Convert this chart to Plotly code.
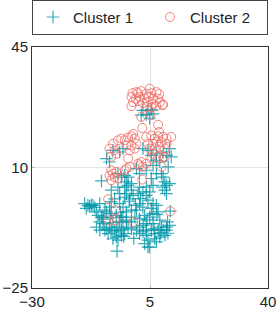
import plotly.graph_objects as go

# Cluster 1 (teal crosses)
c1_x = [2.4, 2.9, 4.4, 5.4, 3.9, 5.9, 4.9,
        -7.9, -6.0, -4.0, -3.0, 2.9, 4.4, 5.4, 6.9, 8.9, 10.8, 9.9, 11.3, 7.9, 10.4, -7.0,
        -9.4, -4.5, -3.5, -2.0, -1.5, -0.5, 1.0, 5.4, 6.9, 8.4, 8.9, 9.4, 9.9, 10.8, 8.7, 9.9, 9.4,
        6.9, 5.9, 3.9, 1.9, -2.5, -1.5,
        -14.4, -13.4, -13.9, -12.9, -9.9, -10.9, -10.4, -9.4, -9.9, -8.9, -10.9, -9.9, -8.4, -7.4,
        -7.9, -7.0, -6.5, -5.5, -5.0, -4.5, -6.0, -3.5, -2.5, -3.0, -4.5, -4.0, -3.0, -2.0, -1.5,
        -0.5, 1.0, 1.9, 2.9, 3.9, 4.4, 4.9, 3.4, 5.4, 6.4, 7.9, 8.9, 9.9, 10.8, 9.4, 7.4, 6.4, 6.9,
        -4.0, -2.5, -1.0, 0.0, 1.5, 2.9, 3.9, 4.9, 4.4, 5.9, 6.9, 5.4, 2.9, 1.9, 1.0, -0.5, -2.0,
        -3.0, -4.0, -5.5, -6.5, -7.0, -7.9, -6.5, -5.0, -3.5, -2.0, 0.5, 1.9, 3.4, 4.9, 5.9, 7.4,
        7.9, 5.9, 3.9, 1.9, -0.5, -4.8, -8.4, -6.5, -4.5, -2.5, -0.5, 1.9, 3.9, 5.9, -2.0,
        11.0, 4.4, 3.9, -5.0, -8.9, -11.9, -3.5, 9.9, 8.4,
        -12.4, -11.4, -8.9, -6.0, -3.8, -1.2, 0.7, 2.2, 3.0, 6.2, 8.2, 10.2, -6.8, -2.8, 0.2, 4.1, 7.0, 10.3]
c1_y = [25.2, 26.6, 26.6, 26.8, 25.4, 25.6, 24.3,
        12.6, 15.0, 14.5, 15.5, 15.5, 15.0, 13.5, 14.0, 14.5, 15.5, 13.5, 13.1, 11.6, 10.2, 11.6,
        6.1, 8.2, 7.2, 5.8, 4.8, 5.3, 9.7, 6.8, 8.2, 8.2, 7.2, 5.8, 4.8, 5.3, 4.3, 2.4, 3.4,
        12.1, 10.6, 9.2, 8.2, 7.7, 7.2,
        -0.5, -1.0, -1.9, -1.3, -0.5, -2.9, -3.9, -4.4, -5.8, -6.3, -7.3, -8.2, -8.2, -9.2,
        -7.8, -7.3, -8.2, -8.7, -10.2, -11.1, -10.7, -9.7, -9.2, -7.8, -7.3, -5.8, -4.4, -5.3, -7.3,
        -7.8, -8.2, -9.2, -8.7, -9.7, -11.1, -13.1, -12.1, -8.2, -9.2, -10.2, -8.2, -7.3, -6.8, -9.7, -8.2, -10.7, -11.6,
        2.4, 1.4, 0.9, 1.9, 2.4, 2.9, 1.9, 2.9, 0.5, -0.5, -1.0, -1.9, -1.5, -0.5, -2.4, -2.4, -2.9,
        -1.5, -0.5, 0.9, 0.0, -1.5, -2.9, -3.4, -3.9, -4.4, -5.8, -4.4, -4.9, -3.9, -4.4, -3.4, -2.9,
        -5.3, -6.3, -6.3, -7.3, -5.8, -14.3, -2.4, 3.4, 4.3, 4.3, 3.4, 4.3, 4.3, 4.8, 2.4,
        -2.7, -13.1, -8.2, -8.2, -4.4, -1.0, -8.2, -8.2, -7.3,
        -0.8, -1.6, -5.0, -6.0, -3.0, 0.2, -1.0, 1.0, -6.8, -7.8, -9.0, -5.8, -4.6, -10.0, -10.6, -5.2, -3.6, -9.1]

# Cluster 2 (red circles)
c2_x = [4.9, -0.2, 1.0, 2.4, 3.9, 5.4, 6.9, 7.7, 1.5, -0.5, 0.8, 1.9, 3.4, 4.6, 5.9, 7.4,
        0.0, 1.5, 2.9, 4.4, 5.9, 7.9, 8.9, -0.5, 3.9, 5.4, 6.9, 8.7, 2.4, 5.1, 2.7, 7.4, 7.7,
        -7.0, -6.0, -4.5, -3.5, -2.5, -1.5, -0.5, 0.5, 0.0, -2.0, -0.5, 1.0, -1.0, 0.5, -6.5,
        -5.0, -5.5, -1.5,
        3.9, 5.4, 6.4, 7.4, 8.9, 9.9, 11.3, 4.4, 5.9, 6.9, 8.4, 9.9, 4.9, 6.4, 7.9, 9.4, 5.9,
        7.4, 8.9, 5.4, 3.9, 2.9, 1.9, 8.4, 9.4,
        -6.5, -6.0, -7.0, -5.5, -4.5, -6.5, -5.0, -2.0, -1.0, -2.5, 2.7, 1.5, 2.4,
        -7.4, -5.2, -7.4, -5.5, 0.0, 11.0]
c2_y = [32.9, 31.6, 31.9, 32.2, 31.4, 31.6, 31.9, 31.3, 31.6, 30.5, 30.0, 30.5, 30.0, 30.5, 30.0, 30.0,
        29.0, 29.3, 28.7, 29.0, 28.5, 29.0, 28.3, 27.8, 27.6, 27.4, 27.8, 28.1, 24.7, 25.2, 21.5, 22.4, 20.3,
        15.5, 16.9, 17.9, 18.4, 17.9, 18.7, 19.1, 18.4, 19.8, 16.4, 16.4, 16.9, 15.0, 15.5, 13.1,
        14.0, 15.0, 12.6,
        18.9, 19.3, 18.4, 19.1, 18.9, 18.4, 18.9, 16.9, 16.9, 17.4, 17.4, 16.9, 15.5, 15.5, 16.0, 15.5, 14.0,
        13.1, 13.1, 12.6, 11.1, 10.2, 10.6, 10.2, 13.1,
        9.2, 8.2, 7.7, 7.2, 6.8, 6.3, 8.7, 9.7, 10.2, 9.2, 6.5, 11.1, 11.6,
        0.8, -2.4, -5.3, -5.3, -5.8, -2.7]

x_ticks = [-30, 5, 40]
y_ticks = [-25, 10, 45]
series_names = ["Cluster 1", "Cluster 2"]

TEAL = "rgba(0,150,168,0.8)"
RED = "rgba(240,112,106,0.85)"

fig = go.Figure()
fig.add_trace(go.Scatter(
    x=c1_x, y=c1_y, mode="markers", name=series_names[0],
    marker=dict(symbol="cross-thin-open", size=9, line=dict(color=TEAL, width=1.2), color=TEAL),
))
fig.add_trace(go.Scatter(
    x=c2_x, y=c2_y, mode="markers", name=series_names[1],
    marker=dict(symbol="circle-open", size=9, line=dict(color=RED, width=1), color=RED),
))

axis_common = dict(
    showline=True, linecolor="#333333", linewidth=1, mirror=True,
    showgrid=True, gridcolor="#e3e3e3", gridwidth=1,
    zeroline=False, ticks="inside", ticklen=3, tickcolor="#bbbbbb",
    tickfont=dict(family="Liberation Sans, Arial, sans-serif", size=15, color="#222222"),
)
fig.update_xaxes(range=[x_ticks[0], x_ticks[-1]], tickvals=x_ticks, **axis_common)
fig.update_yaxes(range=[y_ticks[0], y_ticks[-1]], tickvals=y_ticks, **axis_common)

fig.update_layout(
    width=277, height=312,
    margin=dict(l=32, r=9, t=47, b=24, autoexpand=False),
    paper_bgcolor="white", plot_bgcolor="white",
    font=dict(family="Liberation Sans, Arial, sans-serif", size=15, color="#222222"),
    showlegend=True,
    legend=dict(
        orientation="h", x=0, y=1.196, xanchor="left", yanchor="top",
        bordercolor="#444444", borderwidth=1, bgcolor="white",
        entrywidth=72, entrywidthmode="pixels",
        font=dict(size=15), itemsizing="trace",
    ),
)

fig.write_html("out.html", config={"displayModeBar": False},
               post_script="document.body.style.margin='0';")
